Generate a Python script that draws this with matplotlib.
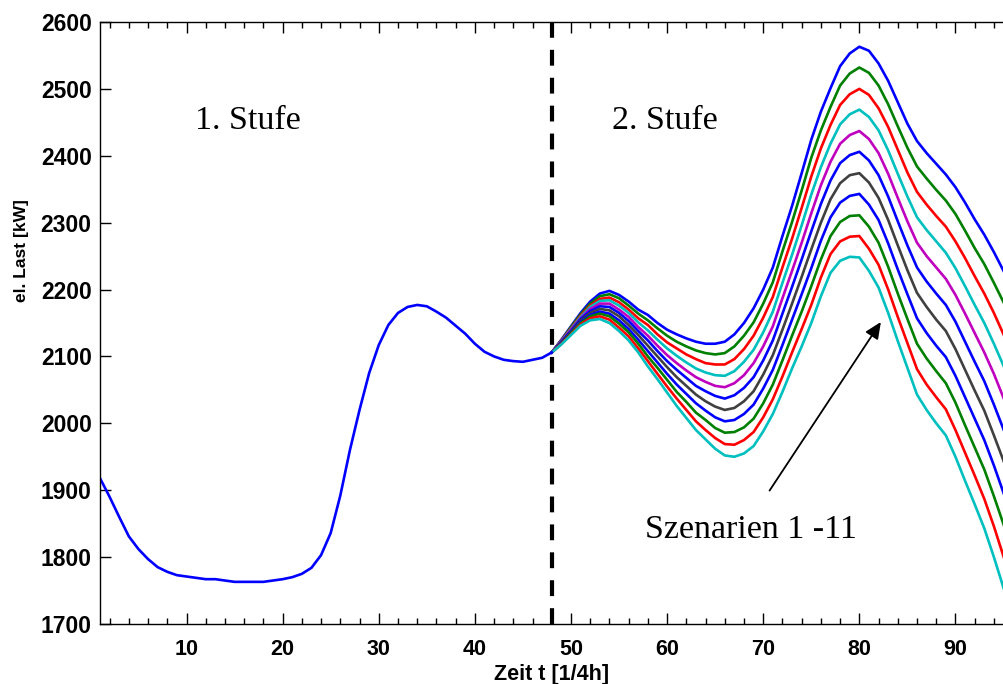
import matplotlib
matplotlib.use("Agg")
import matplotlib.pyplot as plt

# Stufe 1 (gemeinsamer Verlauf), t = 1..48
t1 = list(range(1, 49))
last1 = [1918, 1890, 1860, 1831, 1812, 1797, 1785, 1778, 1773, 1771,
         1769, 1767, 1767, 1765, 1763, 1763, 1763, 1763, 1765, 1767,
         1770, 1775, 1784, 1803, 1836, 1892, 1960, 2020, 2075, 2117,
         2147, 2165, 2174, 2177, 2175, 2167, 2158, 2146, 2134, 2119,
         2107, 2100, 2095, 2093, 2092, 2095, 2098, 2106]

# Stufe 2 (Szenarien 1-11), t = 48..96
t2 = list(range(48, 97))
sz1 = [2106, 2125, 2145, 2165, 2182, 2194, 2198, 2192, 2182, 2170,
       2162, 2150, 2140, 2133, 2127, 2122, 2119, 2119, 2122, 2133,
       2150, 2172, 2200, 2233, 2280, 2325, 2374, 2424, 2466, 2501,
       2534, 2553, 2563, 2557, 2538, 2512, 2480, 2448, 2422, 2404,
       2388, 2372, 2353, 2330, 2305, 2282, 2256, 2228, 2200]
sz2 = [2106, 2124, 2144, 2163, 2179, 2190, 2193, 2187, 2176, 2164,
       2154, 2142, 2131, 2122, 2115, 2109, 2105, 2103, 2105, 2115,
       2131, 2151, 2179, 2211, 2257, 2301, 2348, 2397, 2438, 2473,
       2505, 2523, 2532, 2524, 2505, 2477, 2444, 2412, 2384, 2366,
       2349, 2333, 2313, 2288, 2262, 2238, 2210, 2181, 2151]
sz3 = [2106, 2124, 2142, 2161, 2176, 2186, 2188, 2181, 2170, 2157,
       2147, 2133, 2121, 2112, 2103, 2096, 2090, 2088, 2088, 2096,
       2111, 2131, 2158, 2189, 2233, 2276, 2322, 2369, 2411, 2446,
       2476, 2492, 2500, 2491, 2471, 2443, 2409, 2375, 2346, 2327,
       2310, 2294, 2272, 2247, 2220, 2194, 2165, 2133, 2102]
sz4 = [2106, 2123, 2141, 2159, 2174, 2183, 2184, 2176, 2165, 2151,
       2139, 2125, 2112, 2101, 2091, 2082, 2076, 2072, 2071, 2078,
       2092, 2110, 2136, 2167, 2210, 2252, 2296, 2342, 2383, 2418,
       2447, 2462, 2469, 2458, 2438, 2408, 2373, 2339, 2308, 2289,
       2272, 2255, 2232, 2205, 2177, 2150, 2119, 2086, 2053]
sz5 = [2106, 2122, 2140, 2157, 2171, 2179, 2179, 2170, 2159, 2144,
       2131, 2116, 2102, 2090, 2079, 2069, 2062, 2056, 2054, 2060,
       2072, 2090, 2115, 2145, 2187, 2228, 2270, 2314, 2356, 2391,
       2418, 2431, 2437, 2425, 2404, 2373, 2337, 2302, 2270, 2250,
       2233, 2216, 2192, 2164, 2135, 2106, 2074, 2038, 2004]
sz6 = [2106, 2122, 2138, 2156, 2168, 2175, 2174, 2165, 2153, 2138,
       2124, 2108, 2093, 2080, 2068, 2056, 2048, 2041, 2037, 2042,
       2053, 2069, 2094, 2124, 2164, 2204, 2245, 2287, 2328, 2363,
       2389, 2401, 2406, 2393, 2371, 2339, 2302, 2266, 2233, 2212,
       2194, 2177, 2152, 2122, 2092, 2063, 2028, 1991, 1955]
sz7 = [2106, 2121, 2137, 2154, 2165, 2171, 2169, 2160, 2147, 2132,
       2116, 2100, 2084, 2069, 2056, 2043, 2033, 2025, 2020, 2023,
       2033, 2048, 2073, 2102, 2140, 2179, 2219, 2260, 2300, 2335,
       2359, 2371, 2374, 2360, 2337, 2304, 2266, 2229, 2195, 2174,
       2155, 2138, 2111, 2080, 2049, 2019, 1982, 1944, 1906]
sz8 = [2106, 2120, 2136, 2152, 2162, 2167, 2164, 2154, 2141, 2125,
       2108, 2091, 2074, 2058, 2044, 2030, 2019, 2009, 2003, 2005,
       2014, 2028, 2052, 2080, 2117, 2155, 2193, 2232, 2273, 2308,
       2330, 2340, 2343, 2327, 2304, 2269, 2230, 2193, 2157, 2135,
       2116, 2099, 2071, 2039, 2007, 1975, 1937, 1896, 1857]
sz9 = [2106, 2119, 2135, 2150, 2160, 2164, 2160, 2149, 2136, 2119,
       2100, 2083, 2065, 2047, 2032, 2016, 2005, 1993, 1986, 1987,
       1994, 2007, 2030, 2058, 2094, 2131, 2167, 2205, 2245, 2280,
       2301, 2310, 2311, 2294, 2270, 2234, 2194, 2156, 2119, 2097,
       2078, 2060, 2031, 1997, 1964, 1931, 1891, 1849, 1808]
sz10 = [2106, 2119, 2133, 2148, 2157, 2160, 2155, 2143, 2130, 2112,
        2093, 2074, 2055, 2037, 2020, 2003, 1990, 1978, 1969, 1968,
        1975, 1987, 2009, 2036, 2070, 2106, 2141, 2177, 2218, 2253,
        2272, 2279, 2280, 2261, 2237, 2200, 2159, 2120, 2081, 2058,
        2039, 2021, 1990, 1956, 1922, 1887, 1846, 1801, 1759]
sz11 = [2106, 2118, 2132, 2146, 2154, 2156, 2150, 2138, 2124, 2106,
        2085, 2066, 2046, 2026, 2008, 1990, 1976, 1962, 1952, 1950,
        1955, 1966, 1988, 2014, 2047, 2082, 2115, 2150, 2190, 2225,
        2243, 2249, 2248, 2228, 2203, 2165, 2123, 2083, 2043, 2020,
        2000, 1982, 1950, 1914, 1879, 1843, 1800, 1754, 1710]

szenarien = [sz1, sz2, sz3, sz4, sz5, sz6, sz7, sz8, sz9, sz10, sz11]
farben = ['#0000ff', '#008000', '#ff0000', '#00bfbf', '#bf00bf', '#0000ff',
          '#404040', '#0000ff', '#008000', '#ff0000', '#00bfbf']

fig = plt.figure(figsize=(10.04, 6.84), dpi=100)
ax = fig.add_axes([100 / 1004, 60 / 684, 904 / 1004, 602 / 684])

for werte, farbe in zip(szenarien, farben):
    ax.plot(t2, werte, color=farbe, lw=1.9)
ax.plot(t1, last1, color='#0000ff', lw=1.9)

ax.axvline(48, color='black', lw=3, linestyle=(0, (3.8, 2.9)))

ax.set_xlim(1, 95.05)
ax.set_ylim(1700, 2600)
ax.set_xticks(range(10, 100, 10))
ax.set_xticks(range(2, 96, 2), minor=True)
ax.set_yticks(range(1700, 2700, 100))
ax.spines['right'].set_visible(False)
for s in ['left', 'top', 'bottom']:
    ax.spines[s].set_linewidth(1.0)

ax.tick_params(axis='both', which='major', direction='in', length=8, top=True, width=1)
ax.tick_params(axis='x', which='minor', direction='in', length=4, top=True, width=1)
ax.tick_params(axis='x', pad=11)
ax.tick_params(axis='y', pad=6)

for lab in ax.get_yticklabels():
    lab.set_family('Liberation Sans')
    lab.set_weight('bold')
    lab.set_fontsize(16.5)
for lab in ax.get_xticklabels():
    lab.set_family('Liberation Sans')
    lab.set_weight('bold')
    lab.set_fontsize(15.5)

ax.set_xlabel('Zeit t [1/4h]', family='Liberation Sans',
              weight='bold', fontsize=15.5, labelpad=3)
ax.set_ylabel('el. Last [kW]', family='Liberation Sans',
              weight='bold', fontsize=12.5)
ax.yaxis.set_label_coords(-0.079, 0.62)

serif = 'Liberation Serif'
ax.text(16.35, 2452, '1. Stufe', family=serif, fontsize=24.5, ha='center', va='center')
ax.text(59.8, 2452, '2. Stufe', family=serif, fontsize=24.5, ha='center', va='center')
ax.text(68.7, 1841, 'Szenarien 1 -11', family=serif, fontsize=24.5, ha='center', va='center')
ax.annotate('', xy=(82.4, 2155), xytext=(70.5, 1896),
            arrowprops=dict(arrowstyle='-|>,head_length=1.0,head_width=0.45',
                            color='black', lw=1.3))

fig.savefig('out.png', dpi=100)
